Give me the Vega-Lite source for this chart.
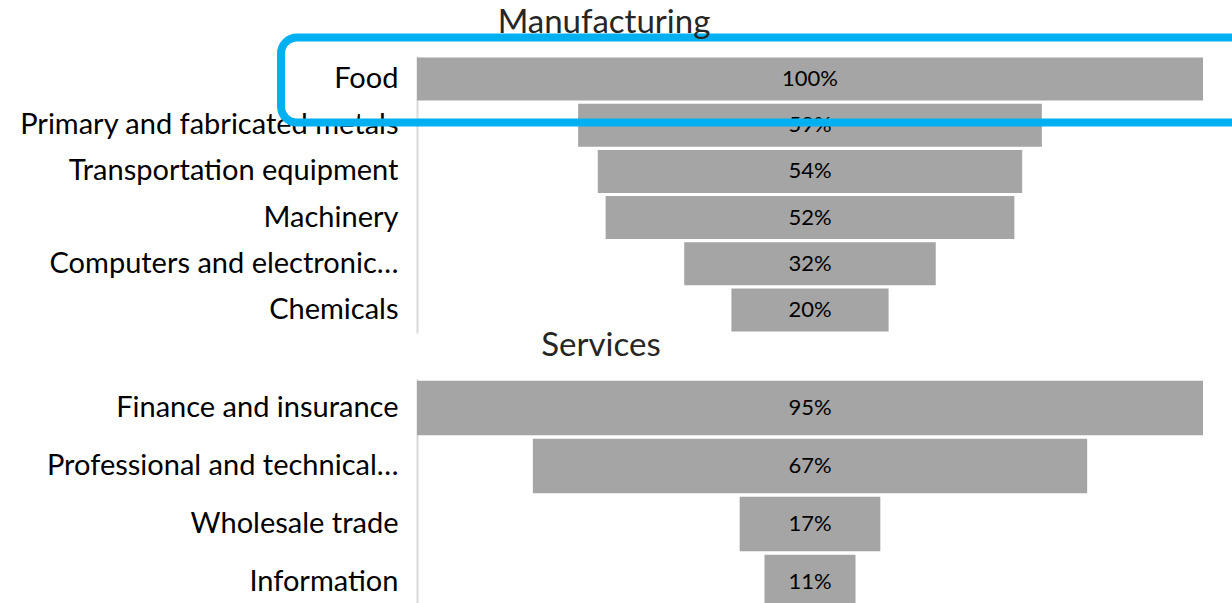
{
  "$schema": "https://vega.github.io/schema/vega-lite/v6.json",
  "padding": {"left": 0, "top": 6, "right": 0, "bottom": 0},
  "background": "white",
  "config": {"view": {"stroke": null}, "font": "Lato", "concat": {"spacing": -3}},
  "datasets": {
    "manufacturing": [
      {"industry": "Food", "share": 1.00},
      {"industry": "Primary and fabricated metals", "share": 0.59},
      {"industry": "Transportation equipment", "share": 0.54},
      {"industry": "Machinery", "share": 0.52},
      {"industry": "Computers and electronic…", "share": 0.32},
      {"industry": "Chemicals", "share": 0.20}
    ],
    "services": [
      {"industry": "Finance and insurance", "share": 0.95},
      {"industry": "Professional and technical…", "share": 0.67},
      {"industry": "Wholesale trade", "share": 0.17},
      {"industry": "Information", "share": 0.11}
    ],
    "highlight": [
      {"industry": "Food", "from": -0.173, "to": 1.07}
    ]
  },
  "vconcat": [
    {
      "width": 786,
      "height": 277,
      "title": {"text": "Manufacturing", "fontSize": 33, "fontWeight": "normal", "font": "Lato", "color": "#262626", "anchor": "middle", "dx": -206, "offset": -6},
      "layer": [
        {
          "data": {"name": "manufacturing"},
          "mark": {"type": "bar", "color": "#a5a5a5"},
          "encoding": {
            "y": {"field": "industry", "type": "nominal", "sort": null, "scale": {"paddingInner": 0.07, "paddingOuter": 0.035},
              "axis": {"title": null, "domainColor": "#d9d9d9", "domainWidth": 2, "ticks": false, "labelFontSize": 29, "labelFont": "Lato", "labelColor": "#000000", "labelPadding": 19, "labelLimit": 0, "minExtent": 417, "maxExtent": 417}},
            "x": {"field": "share", "type": "quantitative", "stack": "center", "scale": {"domain": [0, 1], "nice": false}, "axis": null}
          }
        },
        {
          "data": {"name": "manufacturing"},
          "mark": {"type": "text", "fontSize": 22, "color": "#000000", "font": "Lato"},
          "encoding": {
            "y": {"field": "industry", "type": "nominal", "sort": null},
            "x": {"datum": 0.5},
            "text": {"field": "share", "type": "quantitative", "format": ".0%"}
          }
        },
        {
          "data": {"name": "highlight"},
          "mark": {"type": "bar", "height": 85, "yOffset": 1, "fillOpacity": 0, "stroke": "#00b0f0", "strokeWidth": 8, "cornerRadius": 16},
          "encoding": {
            "y": {"field": "industry", "type": "nominal", "sort": null},
            "x": {"field": "from", "type": "quantitative"},
            "x2": {"field": "to"}
          }
        }
      ]
    },
    {
      "width": 786,
      "height": 232,
      "title": {"text": "Services", "fontSize": 33, "fontWeight": "normal", "font": "Lato", "color": "#262626", "anchor": "middle", "dx": -209, "offset": 16},
      "data": {"name": "services"},
      "layer": [
        {
          "mark": {"type": "bar", "color": "#a5a5a5"},
          "encoding": {
            "y": {"field": "industry", "type": "nominal", "sort": null, "scale": {"paddingInner": 0.06, "paddingOuter": 0.03},
              "axis": {"title": null, "domainColor": "#d9d9d9", "domainWidth": 2, "ticks": false, "labelFontSize": 29, "labelFont": "Lato", "labelColor": "#000000", "labelPadding": 19, "labelLimit": 0, "minExtent": 417, "maxExtent": 417}},
            "x": {"field": "share", "type": "quantitative", "stack": "center", "scale": {"domain": [0, 0.95], "nice": false}, "axis": null}
          }
        },
        {
          "mark": {"type": "text", "fontSize": 22, "color": "#000000", "font": "Lato"},
          "encoding": {
            "y": {"field": "industry", "type": "nominal", "sort": null},
            "x": {"datum": 0.475},
            "text": {"field": "share", "type": "quantitative", "format": ".0%"}
          }
        }
      ]
    }
  ]
}
